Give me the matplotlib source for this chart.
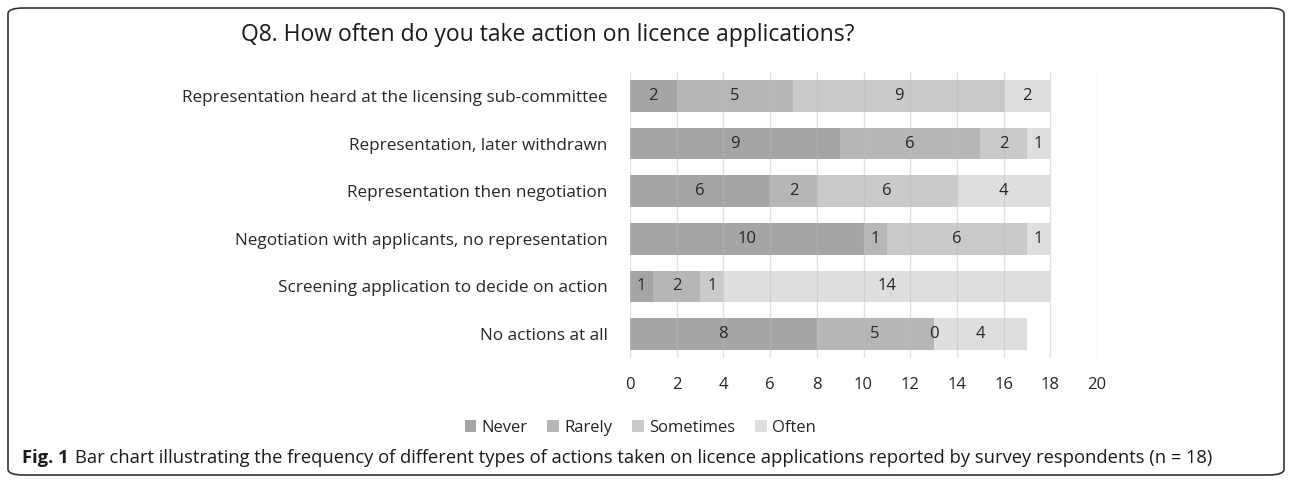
import matplotlib
matplotlib.use("Agg")
import matplotlib.pyplot as plt
from matplotlib.patches import FancyBboxPatch
import numpy as np

plt.rcParams['font.family'] = ['Open Sans', 'DejaVu Sans']

categories = [
    "Representation heard at the licensing sub-committee",
    "Representation, later withdrawn",
    "Representation then negotiation",
    "Negotiation with applicants, no representation",
    "Screening application to decide on action",
    "No actions at all",
]
series_names = ["Never", "Rarely", "Sometimes", "Often"]
never = [2, 9, 6, 10, 1, 8]
rarely = [5, 6, 2, 1, 2, 5]
sometimes = [9, 2, 6, 6, 1, 0]
often = [2, 1, 4, 1, 14, 4]
x_ticks = [0, 2, 4, 6, 8, 10, 12, 14, 16, 18, 20]
colors = ["#a5a5a5", "#b6b6b6", "#cacaca", "#dedede"]

W, H = 1292, 483
fig = plt.figure(figsize=(W/100, H/100), dpi=100)
ax = fig.add_axes([630/W, 1-358/H, 467/W, 286/H])

y = np.arange(len(categories))
left = np.zeros(len(categories))
handles = []
for name, vals, c in zip(series_names, [never, rarely, sometimes, often], colors):
    vals = np.array(vals, dtype=float)
    h = ax.barh(y, vals, left=left, height=0.66, color=c, label=name, zorder=2)
    handles.append(h)
    for yi, l, v in zip(y, left, vals):
        ax.text(l + v/2, yi, f"{int(v)}", ha='center', va='center', fontsize=12, color='#262626', zorder=4)
    left += vals

ax.set_xlim(0, 20)
ax.set_ylim(len(categories)-0.5, -0.5)
ax.set_xticks(x_ticks)
ax.set_xticklabels([str(t) for t in x_ticks], fontsize=12, color='#262626')
ax.set_yticks(y)
ax.set_yticklabels(categories, fontsize=12.3, color='#262626')
ax.tick_params(axis='both', length=0)
ax.tick_params(axis='x', pad=14)
ax.tick_params(axis='y', pad=16)
for s in ax.spines.values():
    s.set_visible(False)
for t in x_ticks:
    ax.axvline(t, color='#bdbdbd', lw=1, alpha=0.45, zorder=3)

fig.text(548/W, 1-35/H, "Q8. How often do you take action on licence applications?",
         ha='center', va='center', fontsize=16.5, color='#1a1a1a')

leg = fig.legend(handles=handles, labels=series_names, loc='center', bbox_to_anchor=(640/W, 1-428/H),
                 ncol=4, frameon=False, fontsize=12, handlelength=0.7, handleheight=0.7,
                 handletextpad=0.3, columnspacing=1.2)
for t in leg.get_texts():
    t.set_color('#262626')

fig_lbl = fig.text(22/W, 1-458/H, "Fig. 1", ha='left', va='center', fontsize=13.2,
                   fontweight='bold', color='#1a1a1a')
fig.canvas.draw()
bb = fig_lbl.get_window_extent(renderer=fig.canvas.get_renderer())
fig.text((bb.x1 + 6)/W, 1-458/H,
         "Bar chart illustrating the frequency of different types of actions taken on licence applications reported by survey respondents (n = 18)",
         ha='left', va='center', fontsize=13.2, color='#1a1a1a')

box = FancyBboxPatch((8/W, 8/H), 1276/W, 467/H,
                     boxstyle="round,pad=0,rounding_size=0.012", transform=fig.transFigure,
                     fill=False, edgecolor='#333333', lw=1.2)
fig.patches.append(box)

fig.savefig("out.png", dpi=100)
